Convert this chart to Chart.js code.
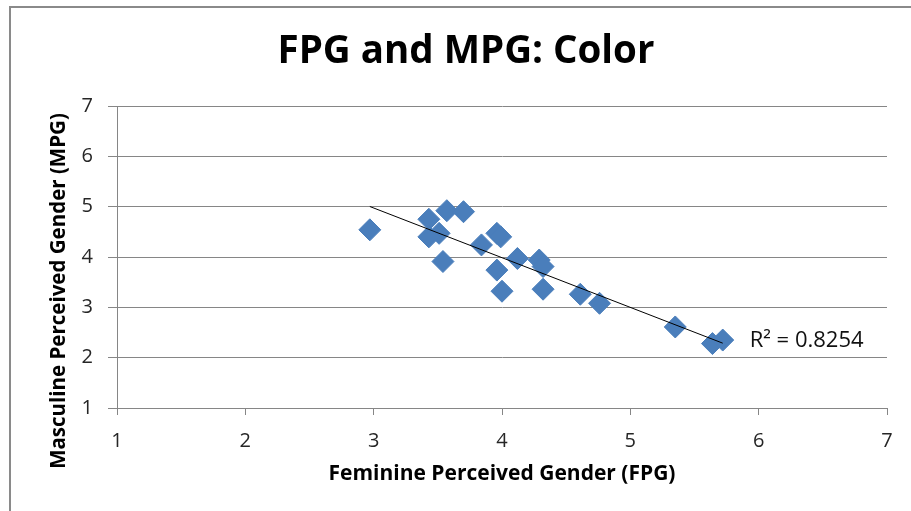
<!DOCTYPE html>
<html>
<head>
<meta charset="utf-8">
<script src="https://cdn.jsdelivr.net/npm/chart.js@4.4.1/dist/chart.umd.min.js"></script>
<style>
  html, body { margin: 0; padding: 0; background: #fff; }
  #frame { position: absolute; left: 9px; top: 6px; width: 1000px; height: 600px;
           border-left: 2px solid #8a8a8a; border-top: 2px solid #8a8a8a; }
  #chart { position: absolute; left: 0; top: 0; }
</style>
</head>
<body>
<div id="frame"></div>
<canvas id="chart" width="911" height="511"></canvas>
<script>
// FPG / MPG ratings per colour item
const fpg = [2.97, 3.43, 3.57, 3.70, 3.51, 3.43, 3.54, 3.84, 3.96, 3.99, 4.12,
             3.96, 4.00, 4.29, 4.32, 4.32, 4.61, 4.76, 5.35, 5.64, 5.72];
const mpg = [4.54, 4.75, 4.92, 4.90, 4.47, 4.40, 3.91, 4.24, 4.47, 4.40, 3.97,
             3.74, 3.32, 3.94, 3.81, 3.36, 3.26, 3.08, 2.61, 2.28, 2.35];
const axisTicks = [1, 2, 3, 4, 5, 6, 7];
const rSquaredText = "R\u00b2 = 0.8254";

const FONT = "'Open Sans', 'Liberation Sans', sans-serif";

// linear trendline (least squares) over the data range
function trend(xs, ys) {
  const n = xs.length;
  const mx = xs.reduce((a, b) => a + b, 0) / n;
  const my = ys.reduce((a, b) => a + b, 0) / n;
  let sxy = 0, sxx = 0;
  for (let i = 0; i < n; i++) {
    sxy += (xs[i] - mx) * (ys[i] - my);
    sxx += (xs[i] - mx) * (xs[i] - mx);
  }
  const slope = sxy / sxx;
  const b = my - slope * mx;
  const x0 = Math.min(...xs), x1 = Math.max(...xs);
  return [{ x: x0, y: slope * x0 + b }, { x: x1, y: slope * x1 + b }];
}

const points = fpg.map((x, i) => ({ x: x, y: mpg[i] }));

// y axis title sits a bit below the plot centre, and the R² label next to the line end
const extraText = {
  id: "extraText",
  afterDraw(chart) {
    const ctx = chart.ctx;
    const { x, y } = chart.scales;
    ctx.save();
    ctx.fillStyle = "#000";
    ctx.font = "bold 20.5px " + FONT;
    ctx.textAlign = "center";
    ctx.textBaseline = "middle";
    ctx.translate(59, 291);
    ctx.rotate(-Math.PI / 2);
    ctx.fillText("Masculine Perceived Gender (MPG)", 0, 0);
    ctx.restore();

    ctx.save();
    ctx.fillStyle = "#111";
    ctx.font = "22px " + FONT;
    ctx.textAlign = "left";
    ctx.textBaseline = "middle";
    ctx.fillText(rSquaredText, x.getPixelForValue(5.93), y.getPixelForValue(2.33));
    ctx.restore();
  }
};

new Chart(document.getElementById("chart").getContext("2d"), {
  type: "scatter",
  data: {
    datasets: [
      {
        label: "Color",
        data: points,
        pointStyle: "rectRot",
        pointRadius: 11,
        pointBorderWidth: 1,
        backgroundColor: "#4a7ebb",
        borderColor: "#4a7ebb",
        order: 2
      },
      {
        label: "Trend",
        type: "line",
        data: trend(fpg, mpg),
        showLine: true,
        borderColor: "#000",
        borderWidth: 1,
        pointRadius: 0,
        fill: false,
        order: 1
      }
    ]
  },
  options: {
    responsive: false,
    animation: false,
    events: [],
    layout: { padding: { left: 45, right: 24, top: 0, bottom: 0 } },
    plugins: {
      legend: { display: false },
      tooltip: { enabled: false },
      title: {
        display: true,
        text: "FPG and MPG: Color",
        color: "#000",
        font: { family: FONT, size: 38.5, weight: "bold", lineHeight: 1.2 },
        padding: { top: 29, bottom: 30.8 }
      }
    },
    scales: {
      x: {
        type: "linear",
        min: 1,
        max: 7,
        afterBuildTicks: (s) => { s.ticks = axisTicks.map(v => ({ value: v })); },
        afterFit: (s) => { s.height = 103; },
        grid: { drawOnChartArea: false, drawTicks: true, tickLength: 7, color: "#868686" },
        border: { display: true, color: "#868686", width: 1 },
        ticks: { color: "#262626", padding: 14, font: { family: FONT, size: 20 } },
        title: {
          display: true,
          text: "Feminine Perceived Gender (FPG)",
          color: "#000",
          font: { family: FONT, size: 21, weight: "bold", lineHeight: 1.2 },
          padding: { top: 0, bottom: 24.4 }
        }
      },
      y: {
        type: "linear",
        min: 1,
        max: 7,
        afterBuildTicks: (s) => { s.ticks = axisTicks.map(v => ({ value: v })); },
        afterFit: (s) => { s.width = 72; },
        grid: { drawOnChartArea: true, drawTicks: true, tickLength: 9, color: "#868686" },
        border: { display: true, color: "#868686", width: 1 },
        ticks: { color: "#262626", padding: 15, font: { family: FONT, size: 20 } },
        title: { display: false }
      }
    }
  },
  plugins: [extraText]
});
</script>
</body>
</html>
